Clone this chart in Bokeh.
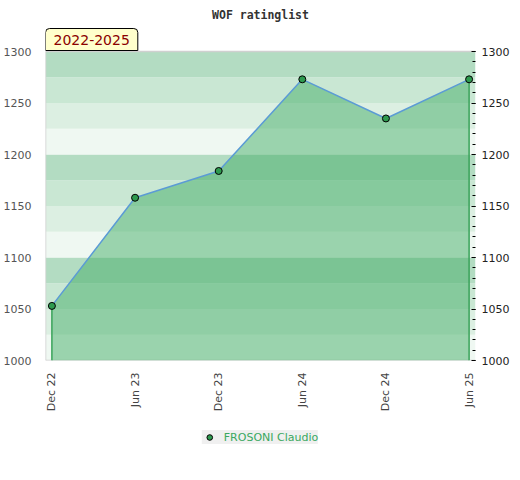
import numpy as np
import pandas as pd
from bokeh.plotting import figure
from bokeh.layouts import column
from bokeh.models import (ColumnDataSource, LinearAxis, FixedTicker, DatetimeTickFormatter,
                          Range1d, Label, Legend, LegendItem)
from bokeh.embed import file_html
from bokeh.resources import INLINE

title_text = "WOF ratinglist"
period_label = "2022-2025"
player = "FROSONI Claudio"
dates = ["2022-12-01", "2023-06-01", "2023-12-01", "2024-06-01", "2024-12-01", "2025-06-01"]
ratings = [1053, 1158, 1184, 1273, 1235, 1273]
y_ticks = [1000, 1050, 1100, 1150, 1200, 1250, 1300]
y_min, y_max = 1000, 1300

x = pd.to_datetime(dates)
src = ColumnDataSource(dict(x=x, y=ratings, base=[y_min] * len(ratings)))
ends = ColumnDataSource(dict(x=[x[0], x[-1]], y=[ratings[0], ratings[-1]], base=[y_min, y_min]))

x0 = x[0] - pd.Timedelta(days=14)
x1 = x[-1] + pd.Timedelta(days=14)
# the frame reaches a little above the top of the scale so the period tag fits inside it
y_top = y_max + 24 * (y_max - y_min) / 309

p = figure(frame_width=430, frame_height=333, x_axis_type="datetime",
           x_range=Range1d(x0, x1), y_range=Range1d(y_min, y_top),
           output_backend="svg", toolbar_location=None,
           min_border_left=45, min_border_right=45, min_border_top=27, min_border_bottom=0)
p.background_fill_color = "white"
p.border_fill_color = "white"
p.outline_line_color = None
p.xgrid.grid_line_color = None
p.ygrid.grid_line_color = None

# background stripes (style)
band_cols = ["#eff8f2", "#dcefe2", "#c9e7d3", "#b3dcc2"]
edges = np.arange(y_min, y_max, 25)
bands = ColumnDataSource(dict(bottom=edges, top=edges + 25,
                              color=[band_cols[i % 4] for i in range(len(edges))]))
p.quad(left=x0, right=x1, bottom="bottom", top="top", fill_color="color",
       line_color=None, source=bands)

# plot-area border (style)
border = ColumnDataSource(dict(xa=[x0, x0, x0], ya=[y_min, y_max, y_min],
                               xb=[x0, x1, x1], yb=[y_max, y_max, y_min]))
p.segment(x0="xa", y0="ya", x1="xb", y1="yb", source=border, line_color="#d0d0d0", line_width=1.5)

# area
p.varea(x="x", y1="base", y2="y", source=src, fill_color="#3ca95f", fill_alpha=0.47)
p.segment(x0="x", y0="base", x1="x", y1="y", source=ends, line_color="#3aa35a", line_width=1.5)
p.line(x="x", y="y", source=src, line_color="#5b9bd5", line_width=1.5)
pts = p.scatter(x="x", y="y", source=src, marker="circle", size=7,
                fill_color="#2e9a4f", line_color="black", line_width=1)

# period tag
tag = Label(x=x0, y=y_max, y_offset=1, text=period_label, text_align="left", text_baseline="bottom",
            text_font="DejaVu Sans", text_font_size="14px", text_color="#8b0000",
            background_fill_color="#ffffcc", border_line_color="black", border_line_width=1,
            padding=dict(left=8, right=8, top=6, bottom=6),
            border_radius=dict(top_left=4, top_right=4, bottom_right=0, bottom_left=0))
p.add_layout(tag)

# title
p.title.text = title_text
p.title.align = "center"
p.title.text_font = "DejaVu Sans Mono"
p.title.text_font_style = "bold"
p.title.text_font_size = "11.5px"
p.title.text_color = "#333333"
p.title.standoff = 11

# x axis
xa = p.xaxis[0]
xa.ticker = FixedTicker(ticks=[t.value // 10**6 for t in x])
fmt = "%b %y"
xa.formatter = DatetimeTickFormatter(milliseconds=fmt, seconds=fmt, minsec=fmt, minutes=fmt,
                                     hourmin=fmt, hours=fmt, days=fmt, months=fmt, years=fmt)
xa.major_label_orientation = np.pi / 2
xa.major_label_text_font = "DejaVu Sans"
xa.major_label_text_font_size = "11px"
xa.major_label_text_color = "#444444"
xa.axis_line_color = None
xa.major_tick_line_color = None
xa.minor_tick_line_color = None
xa.major_label_standoff = 6

# left y axis
ya = p.yaxis[0]
ya.ticker = FixedTicker(ticks=y_ticks)
ya.major_label_text_font = "DejaVu Sans"
ya.major_label_text_font_size = "11px"
ya.major_label_text_color = "#555555"
ya.axis_line_color = None
ya.major_tick_line_color = None
ya.minor_tick_line_color = None
ya.major_label_standoff = 8

# right y axis
ra = LinearAxis(ticker=FixedTicker(ticks=y_ticks, minor_ticks=list(range(y_min, y_max + 1, 10))))
ra.major_label_text_font = "DejaVu Sans"
ra.major_label_text_font_size = "11px"
ra.major_label_text_color = "#222222"
ra.axis_line_color = None
ra.major_tick_in = 4
ra.major_tick_out = 0
ra.minor_tick_in = 3
ra.minor_tick_out = 0
ra.major_tick_line_color = "black"
ra.minor_tick_line_color = "black"
ra.major_label_standoff = 6
p.add_layout(ra, "right")

# legend in its own small figure below the chart
q = figure(width=520, height=46, output_backend="svg", toolbar_location=None,
           min_border=0, x_range=Range1d(0, 1), y_range=Range1d(0, 1))
q.axis.visible = False
q.grid.visible = False
q.outline_line_color = None
q.background_fill_color = "white"
q.border_fill_color = "white"
key = q.scatter(x="x", y="y", source=src, marker="circle", size=7,
                fill_color="#2e9a4f", line_color="black", line_width=1)
legend = Legend(items=[LegendItem(label=player, renderers=[key])], location="center",
                orientation="horizontal")
legend.background_fill_color = "#f0f0f0"
legend.background_fill_alpha = 1
legend.border_line_color = None
legend.label_text_color = "#3aa860"
legend.label_text_font = "DejaVu Sans"
legend.label_text_font_size = "11px"
legend.glyph_width = 15
legend.glyph_height = 14
legend.label_height = 14
legend.padding = 4
legend.margin = 0
legend.label_standoff = 7
q.add_layout(legend)

open("out.html", "w").write(file_html(column(p, q, spacing=0), INLINE))
